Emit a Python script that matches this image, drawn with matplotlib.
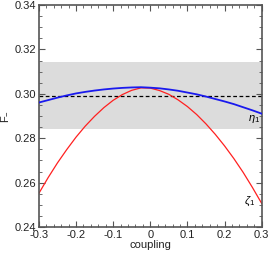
import matplotlib
matplotlib.use("Agg")
import matplotlib.pyplot as plt
from matplotlib.ticker import MultipleLocator, FuncFormatter

plt.rcParams["font.family"] = ["Liberation Sans", "DejaVu Sans"]
plt.rcParams["mathtext.fontset"] = "custom"
plt.rcParams["mathtext.rm"] = "Liberation Sans"
plt.rcParams["mathtext.it"] = "Liberation Sans:italic"

# values
coupling = [-0.300, -0.275, -0.250, -0.225, -0.200, -0.175, -0.150, -0.125, -0.100,
            -0.075, -0.050, -0.025, 0.000, 0.025, 0.050, 0.075, 0.100, 0.125,
            0.150, 0.175, 0.200, 0.225, 0.250, 0.275, 0.300]
eta_1 = [0.2961, 0.2972, 0.2983, 0.2993, 0.3002, 0.3009, 0.3015, 0.3020, 0.3024,
         0.3027, 0.3029, 0.3030, 0.3028, 0.3025, 0.3020, 0.3014, 0.3006, 0.2998,
         0.2988, 0.2977, 0.2966, 0.2954, 0.2940, 0.2926, 0.2911]
zeta_1 = [0.2552, 0.2623, 0.2689, 0.2749, 0.2805, 0.2855, 0.2899, 0.2938, 0.2971,
          0.2997, 0.3016, 0.3027, 0.3026, 0.3015, 0.2998, 0.2973, 0.2943, 0.2907,
          0.2865, 0.2818, 0.2766, 0.2709, 0.2647, 0.2579, 0.2507]

band_low, band_high = 0.2841, 0.3145
reference_level = 0.2992

fig = plt.figure(figsize=(2.70, 2.54), dpi=100)
ax = fig.add_axes([0.144, 0.106, 0.825, 0.874])

ax.axhspan(band_low, band_high, color="#dcdcdc", lw=0, zorder=0)
ax.axhline(reference_level, color="black", lw=0.9, ls=(0, (3, 2)), zorder=1)
ax.plot(coupling, eta_1, color="#1a1aee", lw=1.3, zorder=3)
ax.plot(coupling, zeta_1, color="#ff2020", lw=0.9, zorder=2)

ax.text(0.262, 0.2878, r"$\eta_1$", fontsize=8)
ax.text(0.252, 0.2505, r"$\zeta_1$", fontsize=8)

ax.set_xlim(-0.3, 0.3)
ax.set_ylim(0.24, 0.34)
ax.xaxis.set_major_locator(MultipleLocator(0.1))
ax.xaxis.set_minor_locator(MultipleLocator(0.02))
ax.yaxis.set_major_locator(MultipleLocator(0.02))
ax.yaxis.set_minor_locator(MultipleLocator(0.005))
ax.xaxis.set_major_formatter(FuncFormatter(lambda v, p: "0" if abs(v) < 1e-9 else f"{v:.1f}"))
ax.yaxis.set_major_formatter(FuncFormatter(lambda v, p: f"{v:.2f}"))

ax.tick_params(which="both", direction="in", top=True, right=True, labelsize=8,
               colors="#555555", labelcolor="#222222", pad=2)
ax.tick_params(which="major", length=4, width=0.8)
ax.tick_params(which="minor", length=2, width=0.6)
for s in ax.spines.values():
    s.set_linewidth(1.2)
    s.set_color("#555555")

ax.set_xlabel("coupling", fontsize=8, labelpad=0, color="#222222")
ax.set_ylabel(r"F$_{-}$", fontsize=8, labelpad=3, color="#222222")

fig.savefig("out.png", dpi=100)
